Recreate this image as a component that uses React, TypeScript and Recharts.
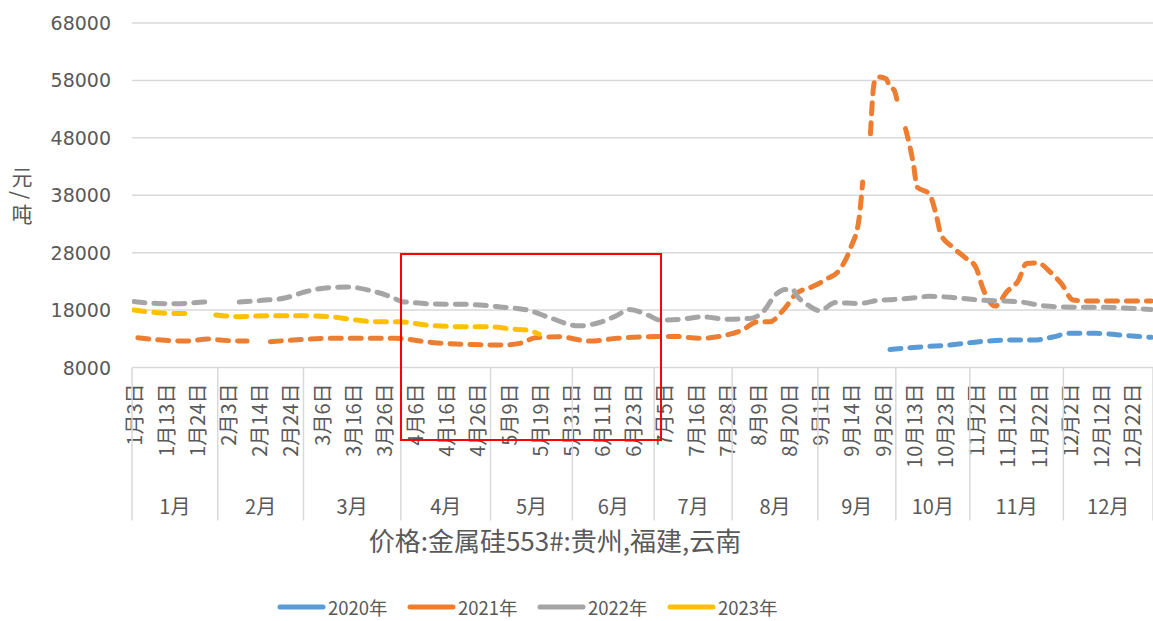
import { CartesianGrid, Line, LineChart, XAxis, YAxis } from 'recharts';

const WIDTH = 1153;
const HEIGHT = 621;
const CATEGORY_COUNT = 262; // trading days on the category axis

const TEXT_COLOR = '#595959';
const GRID_COLOR = '#d9d9d9';
const CJK_FONT = '"Noto Sans CJK SC", "Noto Sans", sans-serif';
const NUM_FONT = '"DejaVu Sans", Verdana, sans-serif';

const dayLabels = [
  '1月3日', '1月13日', '1月24日', '2月3日', '2月14日', '2月24日', '3月6日', '3月16日', '3月26日',
  '4月6日', '4月16日', '4月26日', '5月9日', '5月19日', '5月31日', '6月11日', '6月23日', '7月5日',
  '7月16日', '7月28日', '8月9日', '8月20日', '9月1日', '9月14日', '9月26日', '10月13日', '10月23日',
  '11月2日', '11月12日', '11月22日', '12月2日', '12月12日', '12月22日',
];
const dayLabelIndex = [
  0, 8, 16, 24, 32, 40, 48, 56, 64, 72, 80, 88, 96, 104, 112, 120, 128, 136, 144, 152, 160, 168,
  176, 184, 192, 200, 208, 216, 224, 232, 240, 248, 256,
];
const monthNames = ['1月', '2月', '3月', '4月', '5月', '6月', '7月', '8月', '9月', '10月', '11月', '12月'];
const monthStarts = [0, 22, 44, 69, 92, 113, 134, 154, 176, 196, 215, 239, 262];

const yTicks = [8000, 18000, 28000, 38000, 48000, 58000, 68000];

// [category index, price 元/吨]; null marks a break in the quotes
type Point = [number, number | null];

const price2020: Point[] = [
  [194, 11150], [200, 11500], [209, 11900], [217, 12500], [226, 12780], [231, 12780], [236, 13350],
  [240, 13950], [247, 13950], [255, 13550], [261, 13250],
];

const price2021: Point[] = [
  [1, 13180], [7, 12780], [13, 12600], [19, 12950], [22, 12780], [28, 12600], [29, 12600], [32, null],
  [35, 12500], [41, 12780], [50, 13080], [58, 13080], [67, 13080], [77, 12320], [85, 12030], [94, 11900],
  [99, 12200], [103, 13180], [109, 13350], [117, 12600], [124, 13080], [132, 13350], [139, 13400],
  [145, 13080], [152, 13650], [156, 14500], [160, 15950], [163, 15950], [167, 18300], [170, 20900],
  [174, 22050], [178, 23500], [181, 24950], [184, 29000], [186, 33600], [187, 40300], [188, null],
  [189, 48700], [190, 57700], [191, 58600], [193, 58300], [194, 56800], [195, 56400], [196, 53900],
  [197, null], [198, 49600], [200, 43500], [201, 39400], [204, 38300], [206, 34200], [207, 31300],
  [210, 29000], [213, 27300], [216, 25500], [218, 21500], [221, 18700], [224, 21200], [227, 23200],
  [229, 26100], [232, 26200], [235, 24700], [238, 22600], [241, 19750], [245, 19600], [261, 19600],
];

const price2022: Point[] = [
  [0, 19500], [6, 19150], [11, 19100], [18, 19400], [20, 19450], [23, null], [27, 19400], [33, 19700],
  [39, 20150], [44, 21200], [50, 21900], [55, 22000], [61, 21350], [66, 20300], [69, 19450], [70, 19400],
  [77, 19050], [85, 19000], [94, 18550], [101, 18000], [107, 16600], [114, 15250], [120, 15950],
  [124, 17100], [127, 18100], [132, 17100], [135, 16250], [140, 16380], [146, 16830], [152, 16400],
  [158, 16550], [161, 17400], [165, 20900], [167, 21600], [169, 21600], [170, 20600], [173, 18850],
  [176, 17900], [180, 19300], [186, 19150], [191, 19700], [195, 19850], [201, 20200], [204, 20400],
  [210, 20200], [217, 19750], [227, 19450], [234, 18700], [238, 18550], [251, 18450], [261, 18100],
];

const price2023: Point[] = [
  [0, 18000], [6, 17550], [12, 17400], [14, 17400], [17, null], [21, 17150], [27, 16850], [34, 17000],
  [43, 17000], [50, 16850], [55, 16450], [62, 15950], [68, 15950], [75, 15400], [84, 15100], [91, 15100],
  [97, 14700], [101, 14500], [104, 13800],
];

const SERIES = [
  { name: '2020年', color: '#5B9BD5', points: price2020 },
  { name: '2021年', color: '#ED7D31', points: price2021 },
  { name: '2022年', color: '#A5A5A5', points: price2022 },
  { name: '2023年', color: '#FFC000', points: price2023 },
];

const PLOT_BOTTOM = 367.5;
const DAY_AXIS_HEIGHT = 100;
const MONTH_AXIS_HEIGHT = 60;

const toRows = (points: Point[]) => points.map(([i, v]) => ({ x: i + 0.5, v }));

const monthCenters = monthNames.map((_, m) => (monthStarts[m] + monthStarts[m + 1]) / 2);

type TickProps = { x?: number; y?: number; payload?: { value: number } };

const ValueTick = ({ x = 0, y = 0, payload }: TickProps) => (
  <text x={x} y={y} textAnchor="end" dominantBaseline="central" fill={TEXT_COLOR} fontSize={19} fontFamily={NUM_FONT}>
    {payload?.value}
  </text>
);

const DayTick = ({ x = 0, y = 0, payload }: TickProps) => {
  const idx = dayLabelIndex.indexOf((payload?.value ?? 0) - 0.5);
  if (idx < 0) return null;
  const ty = y + 16;
  return (
    <text
      x={x}
      y={ty}
      transform={`rotate(-90 ${x} ${ty})`}
      textAnchor="end"
      dominantBaseline="central"
      fill={TEXT_COLOR}
      fontSize={20}
      fontFamily={CJK_FONT}
    >
      {dayLabels[idx]}
    </text>
  );
};

const MonthTick = ({ x = 0, y = 0, payload }: TickProps) => {
  const value = payload?.value ?? 0;
  if (monthStarts.includes(value)) {
    return <line x1={x} x2={x} y1={y - DAY_AXIS_HEIGHT} y2={y + 53} stroke={GRID_COLOR} strokeWidth={1.5} />;
  }
  const m = monthCenters.indexOf(value);
  if (m < 0) return null;
  return (
    <text x={x} y={y + 38} textAnchor="middle" dominantBaseline="central" fill={TEXT_COLOR} fontSize={20} fontFamily={CJK_FONT}>
      {monthNames[m]}
    </text>
  );
};

// legend row under the title, one 130px slot per year
const LegendRow = () => (
  <svg width={560} height={26} style={{ position: 'absolute', left: 270, top: 594 }}>
    {SERIES.map((s, i) => (
      <g key={s.name} transform={`translate(${8 + i * 130}, 13)`}>
        <line x1={2} x2={45} y1={0} y2={0} stroke={s.color} strokeWidth={5} strokeLinecap="round" />
        <text x={50} y={0} dominantBaseline="central" fill={TEXT_COLOR} fontSize={18.5} fontFamily={CJK_FONT}>
          {s.name}
        </text>
      </g>
    ))}
  </svg>
);

export default function App() {
  return (
    <div style={{ position: 'absolute', left: 0, top: 0, width: WIDTH, height: HEIGHT, background: '#fff', overflow: 'hidden' }}>
      <LineChart
        width={WIDTH}
        height={HEIGHT}
        margin={{ top: 23, right: 0, bottom: HEIGHT - PLOT_BOTTOM - DAY_AXIS_HEIGHT - MONTH_AXIS_HEIGHT, left: 0 }}
      >
        <CartesianGrid vertical={false} stroke={GRID_COLOR} strokeWidth={1.5} />
        <XAxis
          type="number"
          dataKey="x"
          domain={[0, CATEGORY_COUNT]}
          allowDataOverflow
          ticks={dayLabelIndex.map((i) => i + 0.5)}
          interval={0}
          height={DAY_AXIS_HEIGHT}
          axisLine={false}
          tickLine={false}
          tickSize={0}
          tickMargin={0}
          tick={<DayTick />}
        />
        <XAxis
          xAxisId="month"
          type="number"
          dataKey="x"
          domain={[0, CATEGORY_COUNT]}
          allowDataOverflow
          ticks={[...monthStarts, ...monthCenters]}
          interval={0}
          height={MONTH_AXIS_HEIGHT}
          axisLine={false}
          tickLine={false}
          tickSize={0}
          tickMargin={0}
          tick={<MonthTick />}
        />
        <YAxis
          domain={[8000, 68000]}
          ticks={yTicks}
          interval={0}
          width={132}
          axisLine={false}
          tickLine={false}
          tickSize={0}
          tickMargin={21}
          tick={<ValueTick />}
        />
        {SERIES.map((s) => (
          <Line
            key={s.name}
            data={toRows(s.points)}
            dataKey="v"
            name={s.name}
            type="monotone"
            stroke={s.color}
            strokeWidth={5}
            strokeDasharray="11 9"
            strokeLinecap="round"
            strokeLinejoin="round"
            dot={false}
            activeDot={false}
            isAnimationActive={false}
          />
        ))}
      </LineChart>

      {/* axis title stacked vertically: 元 / 吨 */}
      <div
        style={{
          position: 'absolute',
          left: 11,
          top: 166,
          width: 22,
          display: 'flex',
          flexDirection: 'column',
          alignItems: 'center',
          fontSize: 21,
          lineHeight: '21px',
          color: TEXT_COLOR,
          fontFamily: CJK_FONT,
        }}
      >
        <span>元</span>
        <span style={{ transform: 'rotate(90deg)', height: 16, lineHeight: '16px' }}>/</span>
        <span>吨</span>
      </div>

      <div
        style={{
          position: 'absolute',
          left: 0,
          width: 1110,
          top: 524,
          textAlign: 'center',
          fontSize: 26,
          lineHeight: '32px',
          color: TEXT_COLOR,
          fontFamily: CJK_FONT,
          whiteSpace: 'nowrap',
        }}
      >
        价格:金属硅553#:贵州,福建,云南
      </div>

      <LegendRow />

      {/* highlighted Apr–Jun window */}
      <div style={{ position: 'absolute', left: 400, top: 253, width: 262, height: 188, border: '2px solid #ff0000', boxSizing: 'border-box' }} />
    </div>
  );
}
